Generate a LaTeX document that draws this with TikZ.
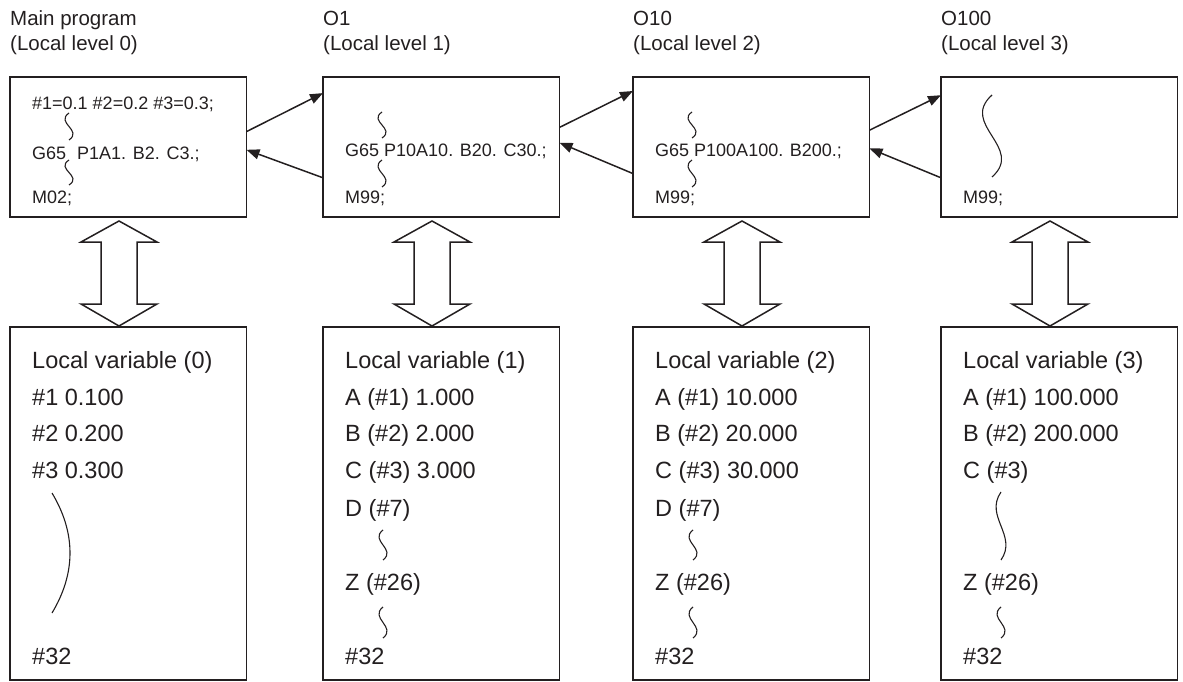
\documentclass[tikz,border=0pt]{standalone}
\usepackage{fontspec}
\setmainfont{Liberation Sans}
\usetikzlibrary{calc,arrows.meta}
\definecolor{ink}{HTML}{231F20}
\newcommand\squiggle[4]{% x, y0, y1, amplitude
  \draw[squig] (#1,#2) .. controls ({#1-#4},{#2+0.36*(#3-#2)}) and ({#1+#4},{#2+0.64*(#3-#2)}) .. (#1,#3);}
\newcommand\dblarrow[1]{%
  \draw[dbl] ($(t#1.south west)+(109,4)$) -- ++(38,21) -- ++(-20,0) -- ++(0,62) -- ++(20,0)
    -- ++(-38,22) -- ++(-38,-22) -- ++(20,0) -- ++(0,-62) -- ++(-20,0) -- cycle;}
\begin{document}
\begin{tikzpicture}[x=1pt,y=-1pt,
  box/.style={draw=ink,line width=1.5pt,minimum width=236.5pt,minimum height=140pt,inner sep=0pt,outer sep=0pt,anchor=north west},
  vbox/.style={box,minimum height=353pt},
  title/.style={anchor=base west,inner sep=0pt,text=ink,font=\fontsize{20.5}{24}\selectfont},
  code/.style={anchor=base west,inner sep=0pt,text=ink,font=\fontsize{18}{22}\selectfont},
  var/.style={anchor=base west,inner sep=0pt,text=ink,font=\fontsize{23.5}{27}\selectfont},
  squig/.style={draw=ink,line width=1.1pt},
  link/.style={draw=ink,line width=1.5pt,-{Triangle[length=13pt,width=10pt]}},
  dbl/.style={draw=ink,line width=1.5pt,line join=miter}]
\useasboundingbox (0,0) rectangle (1183,682);

% titles
\node[title] (h0a) at (10,25.5) {Main program};
\node[title] (h0b) at (10,50.5) {(Local level 0)};
\node[title] (h1a) at (323,25.5) {O1};
\node[title] (h1b) at (323,50.5) {(Local level 1)};
\node[title] (h2a) at (633,25.5) {O10};
\node[title] (h2b) at (633,50.5) {(Local level 2)};
\node[title] (h3a) at (941,25.5) {O100};
\node[title] (h3b) at (941,50.5) {(Local level 3)};

% top boxes
\node[box] (t0) at (10,77) {};
\node[box] (t1) at (323,77) {};
\node[box] (t2) at (633,77) {};
\node[box] (t3) at (941,77) {};

% bottom boxes
\node[vbox] (v0) at (10,327) {};
\node[vbox] (v1) at (323,327) {};
\node[vbox] (v2) at (633,327) {};
\node[vbox] (v3) at (941,327) {};

% top box contents
\begin{scope}[shift={(t0.north west)}]
  \node[code] (c0a) at (22,33) {\#1=0.1 \#2=0.2 \#3=0.3;};
  \squiggle{59}{36}{63}{14}
  \node[code] (c0b) at (22,82.5) {G65\hspace{11pt}P1A1. B2. C3.;};
  \squiggle{59}{83}{108}{14}
  \node[code] (c0c) at (22,126) {M02;};
\end{scope}
\begin{scope}[shift={(t1.north west)}]
  \squiggle{59}{35}{61}{14}
  \node[code] (c1b) at (22,80) {G65 P10A10. B20. C30.;};
  \squiggle{59}{83}{110}{14}
  \node[code] (c1c) at (22,126) {M99;};
\end{scope}
\begin{scope}[shift={(t2.north west)}]
  \squiggle{59}{35}{61}{14}
  \node[code] (c2b) at (22,80) {G65 P100A100. B200.;};
  \squiggle{59}{83}{110}{14}
  \node[code] (c2c) at (22,126) {M99;};
\end{scope}
\begin{scope}[shift={(t3.north west)}]
  \squiggle{51}{18}{100}{33}
  \node[code] (c3c) at (22,126) {M99;};
\end{scope}

% bottom box contents
\begin{scope}[shift={(v0.north west)}]
  \node[var] (l0a) at (22,41) {Local variable (0)};
  \node[var] (l0b) at (22,78) {\#1 0.100};
  \node[var] (l0c) at (22,114) {\#2 0.200};
  \node[var] (l0d) at (22,151) {\#3 0.300};
  \draw[squig] (42,166) .. controls (66,206) and (66,246) .. (42,286);
  \node[var] (l0e) at (22,337) {\#32};
\end{scope}
\begin{scope}[shift={(v1.north west)}]
  \node[var] (l1a) at (22,41) {Local variable (1)};
  \node[var] (l1b) at (22,78) {A (\#1) 1.000};
  \node[var] (l1c) at (22,114) {B (\#2) 2.000};
  \node[var] (l1d) at (22,151) {C (\#3) 3.000};
  \node[var] (l1e) at (22,189) {D (\#7)};
  \squiggle{60}{203}{233}{14}
  \node[var] (l1f) at (22,263) {Z (\#26)};
  \squiggle{60}{280}{311}{14}
  \node[var] (l1g) at (22,337) {\#32};
\end{scope}
\begin{scope}[shift={(v2.north west)}]
  \node[var] (l2a) at (22,41) {Local variable (2)};
  \node[var] (l2b) at (22,78) {A (\#1) 10.000};
  \node[var] (l2c) at (22,114) {B (\#2) 20.000};
  \node[var] (l2d) at (22,151) {C (\#3) 30.000};
  \node[var] (l2e) at (22,189) {D (\#7)};
  \squiggle{60}{203}{233}{14}
  \node[var] (l2f) at (22,263) {Z (\#26)};
  \squiggle{60}{280}{311}{14}
  \node[var] (l2g) at (22,337) {\#32};
\end{scope}
\begin{scope}[shift={(v3.north west)}]
  \node[var] (l3a) at (22,41) {Local variable (3)};
  \node[var] (l3b) at (22,78) {A (\#1) 100.000};
  \node[var] (l3c) at (22,114) {B (\#2) 200.000};
  \node[var] (l3d) at (22,151) {C (\#3)};
  \squiggle{60}{165}{233}{17}
  \node[var] (l3f) at (22,263) {Z (\#26)};
  \squiggle{60}{280}{311}{14}
  \node[var] (l3g) at (22,337) {\#32};
\end{scope}

% call / return arrows
\draw[link] ($(t0.north east)!0.39!(t0.south east)$) -- ($(t1.north west)!0.115!(t1.south west)$);
\draw[link] ($(t1.north west)!0.72!(t1.south west)$) -- ($(t0.north east)!0.52!(t0.south east)$);
\draw[link] ($(t1.north east)!0.36!(t1.south east)$) -- ($(t2.north west)!0.10!(t2.south west)$);
\draw[link] ($(t2.north west)!0.69!(t2.south west)$) -- ($(t1.north east)!0.47!(t1.south east)$);
\draw[link] ($(t2.north east)!0.38!(t2.south east)$) -- ($(t3.north west)!0.13!(t3.south west)$);
\draw[link] ($(t3.north west)!0.72!(t3.south west)$) -- ($(t2.north east)!0.51!(t2.south east)$);

% double arrows
\dblarrow{0}
\dblarrow{1}
\dblarrow{2}
\dblarrow{3}
\end{tikzpicture}
\end{document}
